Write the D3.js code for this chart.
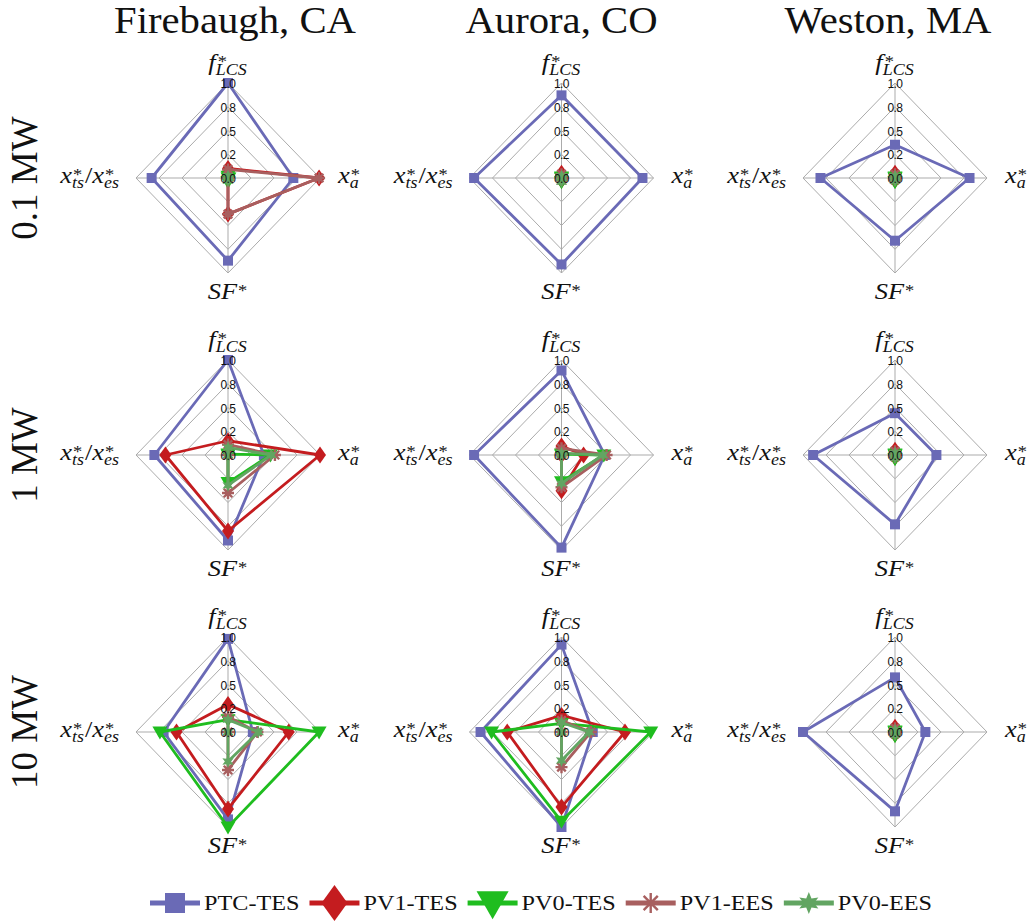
<!DOCTYPE html>
<html><head><meta charset="utf-8">
<script src="https://cdn.jsdelivr.net/npm/d3@7"></script>
<style>body{margin:0;background:#fff}svg{display:block}</style>
</head><body>
<svg id="chart" width="1030" height="922"></svg>
<script>
// ---------- data ----------
const sites = ["Firebaugh, CA", "Aurora, CO", "Weston, MA"];
const capacities = ["0.1 MW", "1 MW", "10 MW"];
const seriesNames = ["PTC-TES", "PV1-TES", "PV0-TES", "PV1-EES", "PV0-EES"];
const seriesColors = ["#6a6ab6", "#c41c1f", "#1fbd1f", "#a85f5f", "#62a562"];
const seriesMarkers = ["square", "diamond", "triangle", "asterisk", "star"];
const axisKeys = ["f", "xa", "SF", "xts"];            // top, right, bottom, left
const tickValues = [0, 0.25, 0.5, 0.75, 1];
const tickLabels = ["0.0", "0.2", "0.5", "0.8", "1.0"];
// values: [capacity row][site col] -> [f*, x_a*, SF*, x_ts*/x_es*]
const ptcTES = [
  [[1.00, 0.71, 0.87, 0.83], [0.87, 0.88, 0.91, 0.95], [0.35, 0.81, 0.66, 0.81]],
  [[1.00, 0.39, 0.90, 0.80], [0.89, 0.47, 0.975, 0.95], [0.44, 0.45, 0.73, 0.89]],
  [[0.98, 0.27, 0.92, 0.70], [0.92, 0.34, 1.00, 0.88], [0.575, 0.33, 0.835, 1.00]]
];
const pv1TES = [
  [[0.10, 0.99, 0.38, 0.00], [0.05, 0.01, 0.02, 0.00], [0.05, 0.01, 0.02, 0.00]],
  [[0.15, 1.00, 0.80, 0.68], [0.095, 0.24, 0.375, 0.00], [0.05, 0.01, 0.02, 0.00]],
  [[0.29, 0.66, 0.81, 0.56], [0.175, 0.69, 0.79, 0.59], [0.05, 0.01, 0.02, 0.00]]
];
const pv0TES = [
  [[0.02, 0.01, 0.04, 0.00], [0.01, 0.00, 0.04, 0.00], [0.01, 0.00, 0.04, 0.00]],
  [[0.01, 0.46, 0.29, 0.00], [0.01, 0.46, 0.28, 0.00], [0.01, 0.00, 0.04, 0.00]],
  [[0.13, 0.99, 1.00, 0.74], [0.09, 0.97, 0.94, 0.76], [0.01, 0.00, 0.04, 0.00]]
];
const pv1EES = [
  [[0.09, 0.99, 0.38, 0.00], [0.04, 0.01, 0.02, 0.00], [0.04, 0.01, 0.02, 0.00]],
  [[0.11, 0.51, 0.40, 0.00], [0.07, 0.49, 0.34, 0.00], [0.04, 0.01, 0.02, 0.00]],
  [[0.16, 0.32, 0.40, 0.00], [0.12, 0.32, 0.37, 0.00], [0.04, 0.01, 0.02, 0.00]]
];
const pv0EES = [
  [[0.02, 0.01, 0.03, 0.00], [0.02, 0.01, 0.04, 0.00], [0.02, 0.01, 0.03, 0.00]],
  [[0.08, 0.47, 0.32, 0.00], [0.02, 0.45, 0.30, 0.00], [0.02, 0.01, 0.03, 0.00]],
  [[0.13, 0.33, 0.31, 0.00], [0.10, 0.30, 0.30, 0.00], [0.02, 0.01, 0.03, 0.00]]
];
const seriesValues = [ptcTES, pv1TES, pv0TES, pv1EES, pv0EES];

// ---------- layout ----------
const svg = d3.select("#chart");
const SERIF = "'Liberation Serif', 'Times New Roman', serif";
const SANS = "'Liberation Sans', Arial, sans-serif";
const STRETCH = 1.1;   // Computer-Modern-like widening

const colX = d3.scalePoint().domain(sites).range([228, 895]);
const rowY = d3.scalePoint().domain(capacities).range([178, 732]);
const titleX = d3.scalePoint().domain(sites).range([235, 888]);
const rX = d3.scaleLinear().domain([0, 1]).range([0, 92]);
const rY = d3.scaleLinear().domain([0, 1]).range([0, 95]);
const dirs = [[0, -1], [1, 0], [0, 1], [-1, 0]];

function pt(cx, cy, i, v) {
  return [cx + dirs[i][0] * rX(v), cy + dirs[i][1] * rY(v)];
}

function stretchText(sel) {
  const n = sel.node();
  const w = n.getComputedTextLength();
  sel.attr("textLength", w * STRETCH).attr("lengthAdjust", "spacingAndGlyphs");
  return w * STRETCH;
}

// math label builder
function mathLabel(parent, parts, x, y, anchor, size) {
  const g = parent.append("g").attr("font-family", SERIF).attr("fill", "#111");
  let px = 0;
  parts.forEach(p => {
    if (p.t !== undefined) {
      const t = g.append("text").attr("x", px).attr("y", 0).attr("font-size", size)
        .attr("font-style", p.upright ? "normal" : "italic").text(p.t);
      px += stretchText(t) + (p.sp || 0);
    } else {
      let w = 0;
      if (p.sup) {
        const t = g.append("text").attr("x", px + 1).attr("y", -size * 0.12).attr("font-size", size * 0.7)
          .attr("font-style", "normal").text(p.sup);
        w = Math.max(w, stretchText(t) + 1);
      }
      if (p.sub) {
        const t = g.append("text").attr("x", px + (p.subdx || 0)).attr("y", size * 0.2).attr("font-size", size * 0.68)
          .attr("font-style", "italic").text(p.sub);
        w = Math.max(w, stretchText(t) + (p.subdx || 0));
      }
      px += w + 1;
    }
  });
  const off = anchor === "middle" ? -px / 2 : anchor === "end" ? -px : 0;
  g.attr("transform", `translate(${x + off},${y})`);
}

// marker shapes
function markerPath(type, s) {
  const p = d3.path();
  if (type === "square") {
    p.rect(-s.w / 2, -s.w / 2, s.w, s.w);
  } else if (type === "diamond") {
    p.moveTo(0, -s.h / 2); p.lineTo(s.w / 2, 0); p.lineTo(0, s.h / 2); p.lineTo(-s.w / 2, 0); p.closePath();
  } else if (type === "triangle") {
    p.moveTo(-s.w / 2, -s.h * 0.42); p.lineTo(s.w / 2, -s.h * 0.42); p.lineTo(0, s.h * 0.58); p.closePath();
  } else if (type === "star") {
    for (let k = 0; k < 12; k++) {
      const a = -Math.PI / 2 + k * Math.PI / 6;
      const r = k % 2 === 0 ? s.r : s.r * 0.48;
      const x = r * Math.cos(a), y = r * Math.sin(a);
      if (k === 0) p.moveTo(x, y); else p.lineTo(x, y);
    }
    p.closePath();
  } else if (type === "asterisk") {
    for (let k = 0; k < 4; k++) {
      const a = k * Math.PI / 4;
      p.moveTo(-s.r * Math.cos(a), -s.r * Math.sin(a));
      p.lineTo(s.r * Math.cos(a), s.r * Math.sin(a));
    }
  }
  return p.toString();
}
const smallSizes = {
  square: { w: 10 }, diamond: { w: 12, h: 17 }, triangle: { w: 15, h: 13 },
  asterisk: { r: 6 }, star: { r: 6.5 }
};
const bigSizes = {
  square: { w: 20 }, diamond: { w: 26, h: 36 }, triangle: { w: 32, h: 28 },
  asterisk: { r: 10 }, star: { r: 11 }
};
function drawMarker(g, type, color, size, x, y) {
  const path = g.append("path").attr("d", markerPath(type, size))
    .attr("transform", `translate(${x},${y})`);
  if (type === "asterisk") path.attr("fill", "none").attr("stroke", color).attr("stroke-width", 2.4);
  else path.attr("fill", color).attr("stroke", "none");
}

const lineGen = d3.line().curve(d3.curveLinearClosed);

// ---------- titles ----------
sites.forEach(s => {
  const t = svg.append("text").attr("x", titleX(s)).attr("y", 33).attr("text-anchor", "middle")
    .attr("font-family", SERIF).attr("font-size", 37).attr("fill", "#111").text(s);
  stretchText(t);
});
capacities.forEach(c => {
  svg.append("text").attr("transform", `translate(37,${rowY(c)}) rotate(-90)`)
    .attr("text-anchor", "middle").attr("font-family", SERIF).attr("font-size", 37)
    .attr("fill", "#111").text(c);
});

// ---------- panels ----------
capacities.forEach((cap, ri) => {
  sites.forEach((site, ci) => {
    const cx = colX(site), cy = rowY(cap);
    const g = svg.append("g");
    // grid rings
    tickValues.filter(v => v > 0).forEach(v => {
      g.append("path").attr("d", lineGen([0, 1, 2, 3].map(i => pt(cx, cy, i, v))))
        .attr("fill", "none").attr("stroke", "#ababab").attr("stroke-width", 1);
    });
    // spokes
    [0, 1, 2, 3].forEach(i => {
      const e = pt(cx, cy, i, 1);
      g.append("line").attr("x1", cx).attr("y1", cy).attr("x2", e[0]).attr("y2", e[1])
        .attr("stroke", "#ababab").attr("stroke-width", 1);
    });
    // series
    seriesValues.forEach((vals, si) => {
      const v = vals[ri][ci];
      const pts = v.map((val, i) => pt(cx, cy, i, val));
      g.append("path").attr("d", lineGen(pts)).attr("fill", "none")
        .attr("stroke", seriesColors[si]).attr("stroke-width", 2.8).attr("stroke-linejoin", "round");
      pts.forEach(p => drawMarker(g, seriesMarkers[si], seriesColors[si], smallSizes[seriesMarkers[si]], p[0], p[1]));
    });
    // tick labels
    tickValues.forEach((v, k) => {
      g.append("text").attr("x", cx).attr("y", cy - rY(v) + 1).attr("text-anchor", "middle")
        .attr("dominant-baseline", "central").attr("font-family", SANS).attr("font-size", 12)
        .attr("letter-spacing", -0.6).attr("fill", "#111").text(tickLabels[k]);
    });
    // axis labels
    mathLabel(g, [{ t: "f", sp: 1 }, { sup: "*", sub: "LCS", subdx: -1 }], cx, cy - 108, "middle", 24);
    mathLabel(g, [{ t: "x" }, { sup: "*", sub: "a" }], cx + 110, cy + 5, "start", 24);
    mathLabel(g, [{ t: "SF" }, { sup: "*" }], cx, cy + 121, "middle", 24);
    mathLabel(g, [{ t: "x" }, { sup: "*", sub: "ts" }, { t: "/", upright: true }, { t: "x" }, { sup: "*", sub: "es" }],
      cx - 108, cy + 5, "end", 24);
  });
});

// ---------- legend ----------
const leg = svg.append("g");
let lx = 150;
const ly = 903;
seriesNames.forEach((name, si) => {
  leg.append("line").attr("x1", lx).attr("x2", lx + 50).attr("y1", ly).attr("y2", ly)
    .attr("stroke", seriesColors[si]).attr("stroke-width", 5);
  drawMarker(leg, seriesMarkers[si], seriesColors[si], bigSizes[seriesMarkers[si]], lx + 25, ly);
  const t = leg.append("text").attr("x", lx + 54).attr("y", ly + 7).attr("font-family", SERIF)
    .attr("font-size", 22).attr("fill", "#111").text(name);
  const w = stretchText(t);
  lx += 54 + w + 10;
});
</script>
</body></html>
